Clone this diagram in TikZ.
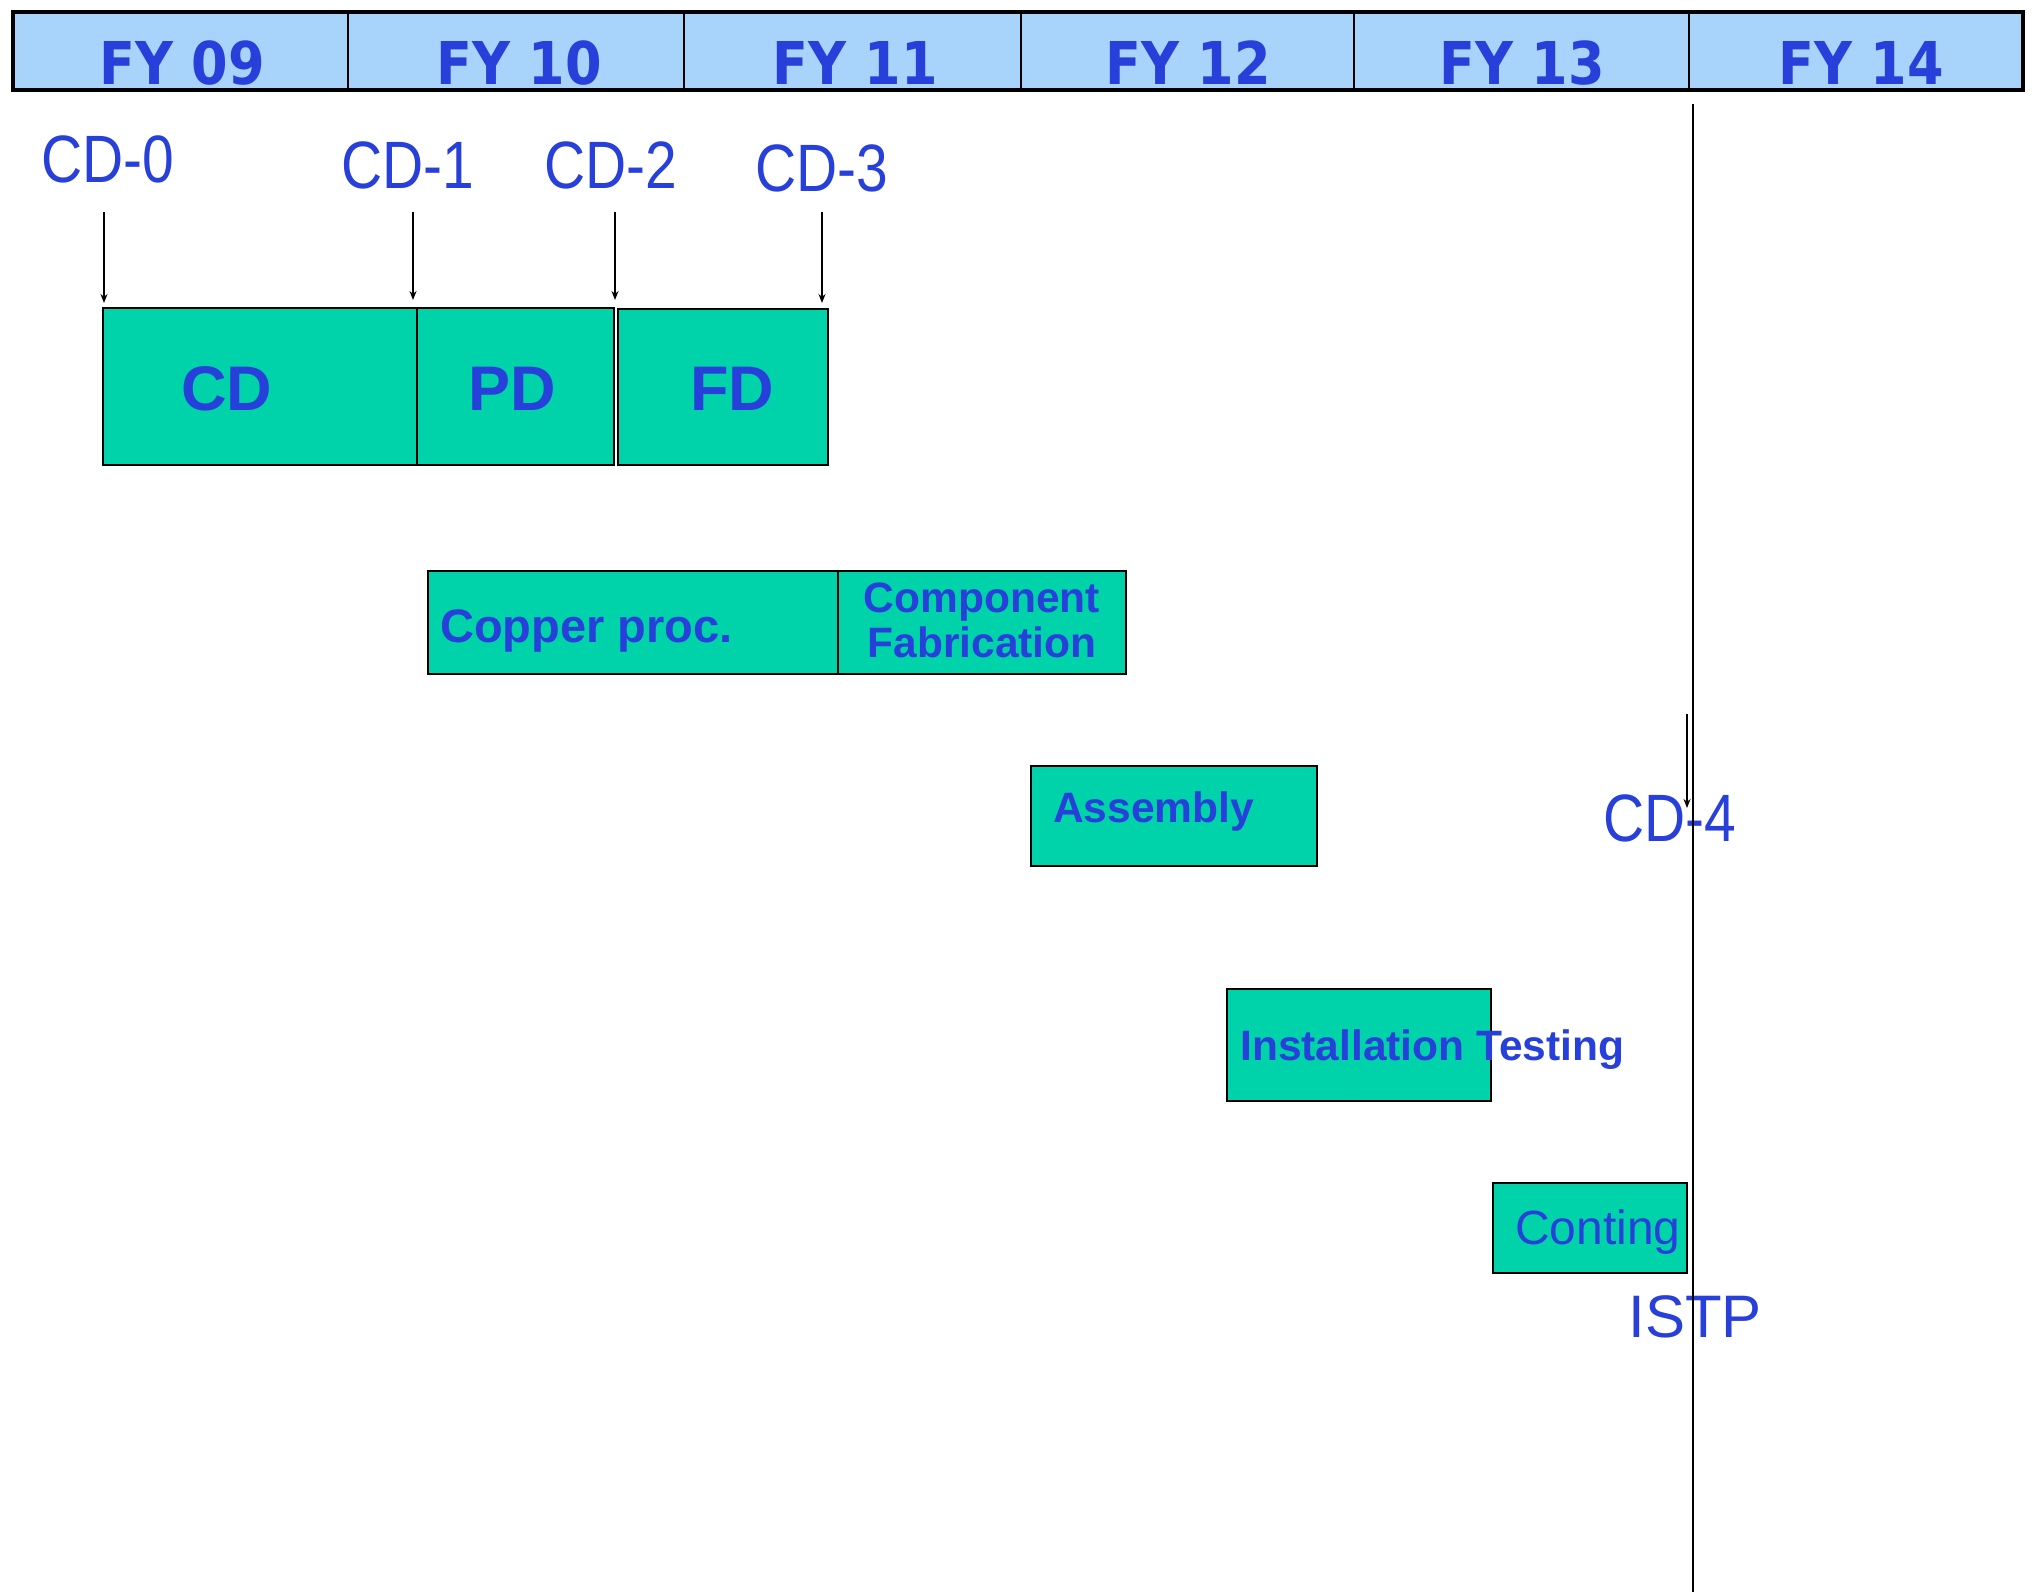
\documentclass[tikz,border=0pt]{standalone}
\usepackage{fontspec}
\setmainfont{Liberation Sans}
\newfontfamily\fyfont{DejaVu Sans}
\usetikzlibrary{arrows.meta}
\definecolor{hdrblue}{RGB}{168,212,252}
\definecolor{barteal}{RGB}{0,210,170}
\definecolor{txtblue}{RGB}{40,64,218}
\begin{document}
\begin{tikzpicture}[x=1pt,y=-1pt,
  cell/.style={fill=hdrblue, minimum height=78pt, minimum width=#1, inner sep=0pt, outer sep=0pt, anchor=north west},
  fytext/.style={anchor=base, text=txtblue, inner sep=0pt, font=\fyfont\bfseries\fontsize{59}{70}\selectfont},
  bar/.style={draw=black, line width=2.5pt, fill=barteal, inner sep=0pt, outer sep=0pt, anchor=north west},
  milestone/.style={anchor=base, text=txtblue, inner sep=0pt, font=\fontsize{67}{80}\selectfont},
  bigbold/.style={anchor=base, text=txtblue, inner sep=0pt, font=\bfseries\fontsize{63}{75}\selectfont},
  taskbold/.style={text=txtblue, inner sep=0pt, font=\bfseries\fontsize{42.5}{47}\selectfont},
  arr/.style={draw=black, line width=1.6pt, -{Stealth[length=9pt,width=7pt]}}]

\fill[white] (0,0) rectangle (2036,1592);
\useasboundingbox (0,0) rectangle (2036,1592);

% fiscal-year header
\node[cell=335pt] (fy09) at (13,12) {};
\node[cell=336pt] (fy10) at (348,12) {};
\node[cell=337pt] (fy11) at (684,12) {};
\node[cell=333pt] (fy12) at (1021,12) {};
\node[cell=335pt] (fy13) at (1354,12) {};
\node[cell=334pt] (fy14) at (1689,12) {};
\draw[line width=3.5pt] (fy09.north west) rectangle (fy14.south east);
\foreach \c in {fy10,fy11,fy12,fy13,fy14}
  \draw[line width=2pt] (\c.north west) -- (\c.south west);
\node[fytext] (t09) at (182,85) {\scalebox{0.89}[1]{FY 09}};
\node[fytext] (t10) at (519,85) {\scalebox{0.89}[1]{FY 10}};
\node[fytext] (t11) at (855,85) {\scalebox{0.89}[1]{FY 11}};
\node[fytext] (t12) at (1188,85) {\scalebox{0.89}[1]{FY 12}};
\node[fytext] (t13) at (1522,85) {\scalebox{0.89}[1]{FY 13}};
\node[fytext] (t14) at (1861,85) {\scalebox{0.89}[1]{FY 14}};

% critical decision milestones
\node[milestone] (m0) at (108,182) {\scalebox{0.85}[1]{CD-0}};
\node[milestone] (m1) at (408,188) {\scalebox{0.85}[1]{CD-1}};
\node[milestone] (m2) at (611,188) {\scalebox{0.85}[1]{CD-2}};
\node[milestone] (m3) at (822,191) {\scalebox{0.85}[1]{CD-3}};
\node[milestone] (m4) at (1670,841) {\scalebox{0.85}[1]{CD-4}};

% design phases
\node[bar, minimum width=314pt, minimum height=157pt] (cd) at (103,308) {};
\node[bar, minimum width=197pt, minimum height=157pt] (pd) at (417,308) {};
\node[bar, minimum width=210pt, minimum height=156pt] (fd) at (618,309) {};
\node[bigbold] (cdt) at (227,410) {CD};
\node[bigbold] (pdt) at (512,410) {PD};
\node[bigbold] (fdt) at (732,410) {FD};

% milestone arrows
\coordinate (s0) at (104,212); \coordinate (e0) at (104,303);
\coordinate (s1) at (413,212); \coordinate (e1) at (413,300);
\coordinate (s2) at (615,212); \coordinate (e2) at (615,300);
\coordinate (s3) at (822,212); \coordinate (e3) at (822,303);
\draw[arr] (s0) -- (e0);
\draw[arr] (s1) -- (e1);
\draw[arr] (s2) -- (e2);
\draw[arr] (s3) -- (e3);

% production tasks
\node[bar, minimum width=410pt, minimum height=103pt] (cu) at (428,571) {};
\node[bar, minimum width=288pt, minimum height=103pt] (cf) at (838,571) {};
\node[taskbold, anchor=base west, font=\bfseries\fontsize{47}{56}\selectfont] (cut) at (440,642) {Copper proc.};
\node[taskbold, align=center] (cft) at (982,620) {Component\\[-2pt]Fabrication};

\node[bar, minimum width=286pt, minimum height=100pt] (as) at (1031,766) {};
\node[taskbold, anchor=base west] (ast) at (1053,822) {Assembly};

\node[bar, minimum width=264pt, minimum height=112pt] (in) at (1227,989) {};
\node[taskbold, anchor=base west] (int) at (1240,1060) {Installation Testing};

\node[bar, minimum width=194pt, minimum height=90pt] (co) at (1493,1183) {};
\node[anchor=base west, text=txtblue, inner sep=0pt, font=\fontsize{48}{56}\selectfont] (cot) at (1515,1244) {Conting};

\node[anchor=base, text=txtblue, inner sep=0pt, font=\fontsize{60}{70}\selectfont] (istp) at (1695,1337) {ISTP};

% completion line and CD-4 arrow
\coordinate (vtop) at (1693,104); \coordinate (vbot) at (1693,1592);
\draw[line width=2pt] (vtop) -- (vbot);
\coordinate (s4) at (1687,714); \coordinate (e4) at (1687,808);
\draw[arr] (s4) -- (e4);
\end{tikzpicture}
\end{document}
